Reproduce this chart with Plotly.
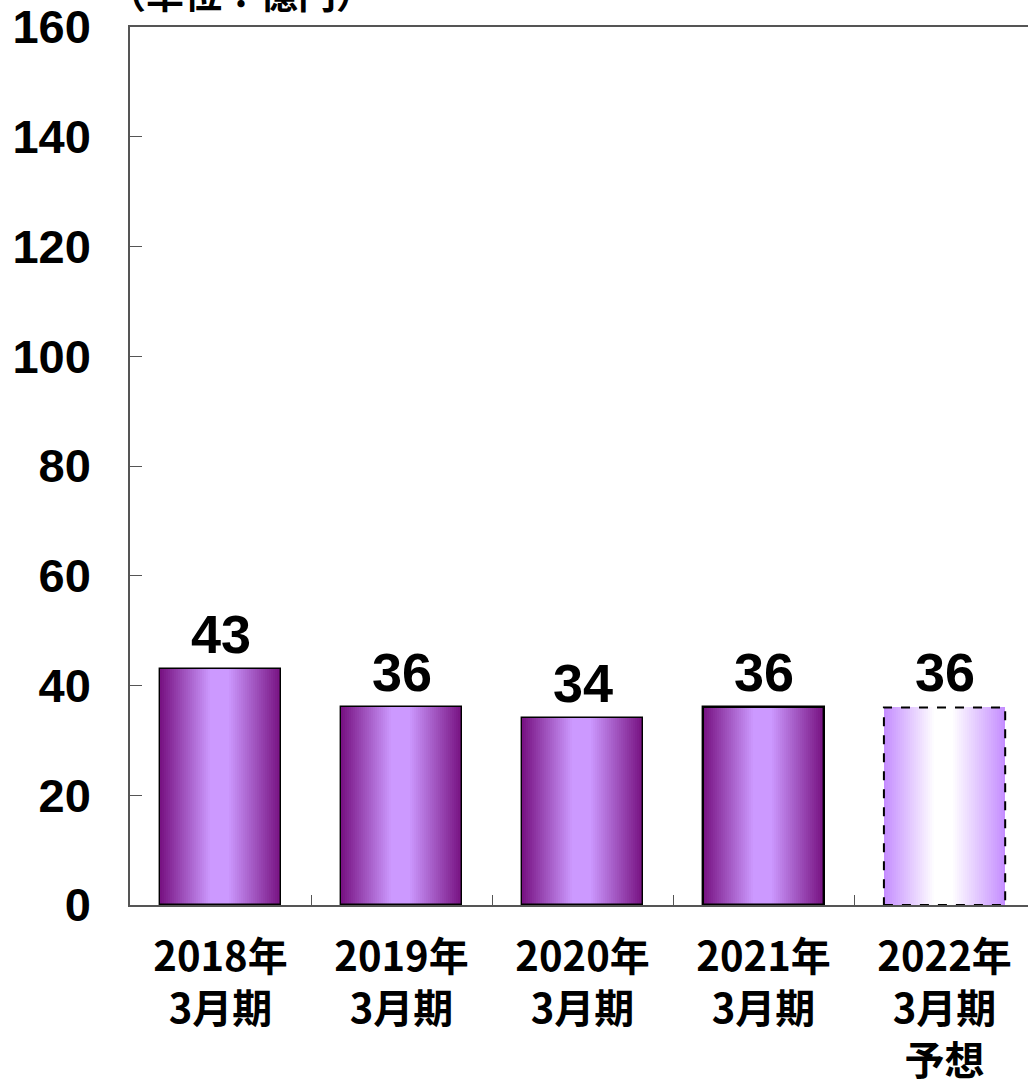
import plotly.graph_objects as go

categories = ["2018年<br>3月期", "2019年<br>3月期", "2020年<br>3月期", "2021年<br>3月期", "2022年<br>3月期<br>予想"]
values = [43, 36, 34, 36, 36]
is_forecast = [False, False, False, False, True]
outline_widths = [1.4, 1.4, 1.4, 2.4, 0]
y_ticks = [0, 20, 40, 60, 80, 100, 120, 140, 160]
unit_label = "（単位：億円）"

BAR_W = 0.67
N_STRIPS = 60

def hex2rgb(h):
    h = h.lstrip("#")
    return tuple(int(h[i:i + 2], 16) for i in (0, 2, 4))

def grad(stops, t):
    for (t0, c0), (t1, c1) in zip(stops, stops[1:]):
        if t0 <= t <= t1:
            f = (t - t0) / (t1 - t0) if t1 > t0 else 0
            a, b = hex2rgb(c0), hex2rgb(c1)
            return "rgb(%d,%d,%d)" % tuple(round(a[i] + (b[i] - a[i]) * f) for i in range(3))
    return stops[-1][1]

actual_stops = [(0, "#761080"), (0.42, "#CC99FF"), (0.56, "#CC99FF"), (1, "#761080")]
forecast_stops = [(0, "#C48CFF"), (0.42, "#FFFFFF"), (0.56, "#FFFFFF"), (1, "#C48CFF")]

fig = go.Figure()
sw = BAR_W / N_STRIPS
for k in range(N_STRIPS):
    t = (k + 0.5) / N_STRIPS
    colors = [grad(forecast_stops if f else actual_stops, t) for f in is_forecast]
    fig.add_trace(go.Bar(
        x=categories, y=values, width=sw * 1.05, offset=-BAR_W / 2 + k * sw,
        marker=dict(color=colors, line=dict(width=0)),
        hoverinfo="skip", showlegend=False,
    ))

# outline
fig.add_trace(go.Bar(
    x=categories, y=values, width=BAR_W, offset=-BAR_W / 2,
    marker=dict(color="rgba(0,0,0,0)", line=dict(color="black", width=outline_widths)),
    showlegend=False,
))

for i, (c, v, f) in enumerate(zip(categories, values, is_forecast)):
    fig.add_annotation(x=c, y=v, text="<b>%d</b>" % v, showarrow=False,
                       xanchor="center", yanchor="bottom", yshift=3,
                       font=dict(family="Liberation Sans", size=54, color="black"))
    if f:
        fig.add_shape(type="rect", xref="x", yref="y",
                      x0=i - BAR_W / 2, x1=i + BAR_W / 2, y0=0, y1=v,
                      line=dict(color="black", width=2, dash="dash"))

fig.add_annotation(text="<b>" + unit_label + "</b>", xref="paper", yref="paper",
                   x=0, y=1, xanchor="left", yanchor="bottom", xshift=-24, yshift=6, showarrow=False,
                   font=dict(family="Noto Sans CJK JP", size=38, color="black"))

fig.update_layout(
    width=1028, height=1079,
    margin=dict(l=130, r=0, t=27, b=174, autoexpand=False),
    plot_bgcolor="white", paper_bgcolor="white",
    barmode="overlay", bargap=0,
    font=dict(family="Liberation Sans", color="black"),
)
fig.update_xaxes(
    range=[-0.5, 4.461], showline=True, linecolor="#555555", linewidth=1.5, mirror=True,
    ticks="inside", tickson="boundaries", ticklen=10, tickcolor="#555555",
    ticklabelstandoff=16, automargin=False,
    tickfont=dict(family="Noto Sans CJK JP", size=40, color="black", weight="bold"),
    showgrid=False,
)
fig.update_yaxes(
    range=[0, 160], tickvals=y_ticks, showline=True, linecolor="#555555", linewidth=1.5,
    ticks="inside", ticklen=12, tickcolor="#555555", ticklabelstandoff=28, automargin=False,
    tickfont=dict(family="Liberation Sans", size=47, color="black", weight="bold"),
    showgrid=False, zeroline=False,
)
fig.write_html("out.html", config={"displayModeBar": False},
               post_script="document.body.style.margin='0px';document.body.style.overflow='hidden';")
